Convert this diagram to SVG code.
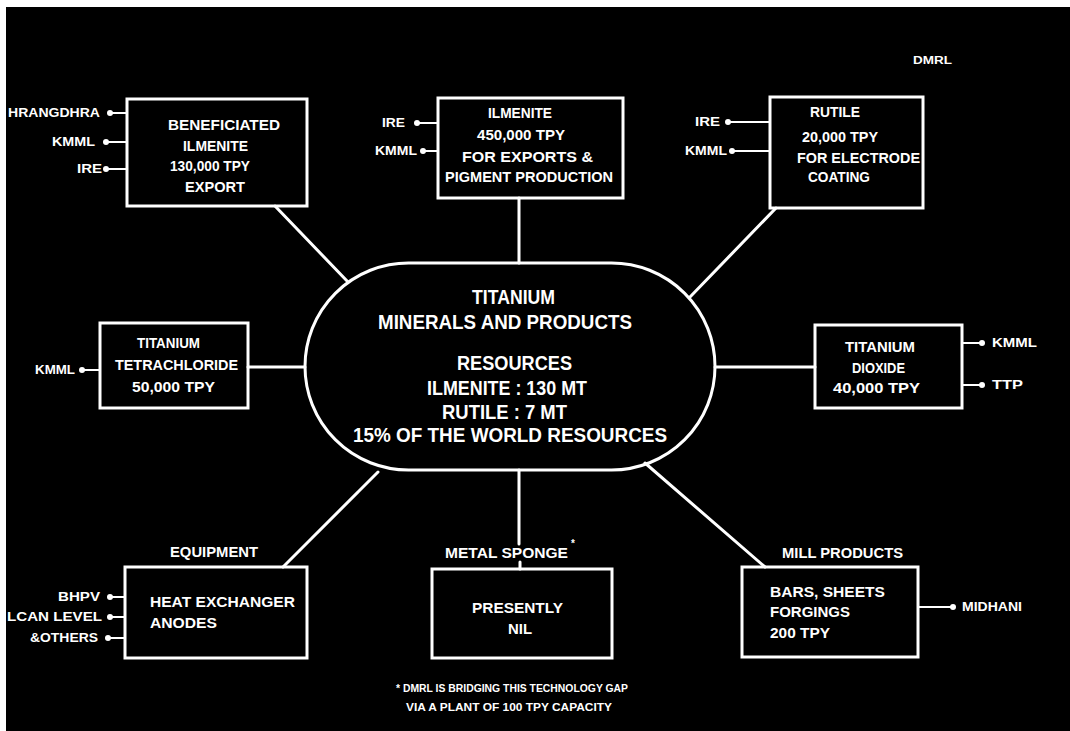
<svg xmlns="http://www.w3.org/2000/svg" width="1070" height="731" viewBox="0 0 1070 731">
<style>
.bg{fill:#000}
.box{fill:none;stroke:#fff;stroke-width:3}
.ln{fill:none;stroke:#fff;stroke-width:3;stroke-linecap:round}
.sl{fill:none;stroke:#fff;stroke-width:2}
.dot{fill:#fff}
text{fill:#fff;font-family:"Liberation Sans",Arial,sans-serif;font-weight:bold}
.t{font-size:14px}
.b{font-size:20px}
.s{font-size:12px}
.f{font-size:10px}
</style>
<rect width="1070" height="731" fill="#fff"/>
<rect class="bg" x="6" y="7" width="1064" height="724"/>

<g id="connectors">
  <line class="ln" x1="275" y1="206" x2="348" y2="282"/>
  <line class="ln" x1="519" y1="198" x2="519" y2="263"/>
  <line class="ln" x1="776" y1="208" x2="690" y2="297"/>
  <line class="ln" x1="248" y1="367" x2="305" y2="367"/>
  <line class="ln" x1="715" y1="367" x2="815" y2="367"/>
  <line class="ln" x1="283" y1="567" x2="378" y2="472"/>
  <line class="ln" x1="519" y1="470" x2="519" y2="544"/>
  <line class="ln" x1="520" y1="562" x2="520" y2="569"/>
  <line class="ln" x1="765" y1="567" x2="645" y2="463"/>
</g>

<g id="center">
  <rect class="box" x="305" y="263" width="410" height="207" rx="103.5" ry="103.5"/>
  <text class="b" x="472" y="304" textLength="83" lengthAdjust="spacingAndGlyphs">TITANIUM</text>
  <text class="b" x="378" y="329" textLength="254" lengthAdjust="spacingAndGlyphs">MINERALS AND PRODUCTS</text>
  <text class="b" x="457" y="370" textLength="115" lengthAdjust="spacingAndGlyphs">RESOURCES</text>
  <text class="b" x="427" y="395" textLength="160" lengthAdjust="spacingAndGlyphs">ILMENITE : 130 MT</text>
  <text class="b" x="442" y="419" textLength="125" lengthAdjust="spacingAndGlyphs">RUTILE : 7 MT</text>
  <text class="b" x="353" y="442" textLength="314" lengthAdjust="spacingAndGlyphs">15% OF THE WORLD RESOURCES</text>
</g>

<g id="beneficiated-ilmenite">
  <rect class="box" x="127" y="99" width="180" height="107"/>
  <text class="t" x="168" y="130" textLength="112" lengthAdjust="spacingAndGlyphs">BENEFICIATED</text>
  <text class="t" x="183" y="151" textLength="65" lengthAdjust="spacingAndGlyphs">ILMENITE</text>
  <text class="t" x="170" y="171" textLength="80" lengthAdjust="spacingAndGlyphs">130,000 TPY</text>
  <text class="t" x="185" y="192" textLength="60" lengthAdjust="spacingAndGlyphs">EXPORT</text>
  <line class="sl" x1="110" y1="113" x2="127" y2="113"/><circle class="dot" cx="110" cy="113" r="3"/>
  <line class="sl" x1="106" y1="142" x2="127" y2="142"/><circle class="dot" cx="106" cy="142" r="3"/>
  <line class="sl" x1="106" y1="169" x2="127" y2="169"/><circle class="dot" cx="106" cy="169" r="3"/>
  <text class="s" x="8" y="117" textLength="92" lengthAdjust="spacingAndGlyphs">HRANGDHRA</text>
  <text class="s" x="52" y="146" textLength="43" lengthAdjust="spacingAndGlyphs">KMML</text>
  <text class="s" x="77" y="173" textLength="25" lengthAdjust="spacingAndGlyphs">IRE</text>
</g>

<g id="ilmenite">
  <rect class="box" x="438" y="98" width="185" height="100"/>
  <text class="t" x="488" y="118" textLength="64" lengthAdjust="spacingAndGlyphs">ILMENITE</text>
  <text class="t" x="477" y="140" textLength="88" lengthAdjust="spacingAndGlyphs">450,000 TPY</text>
  <text class="t" x="462" y="162" textLength="131" lengthAdjust="spacingAndGlyphs">FOR EXPORTS &amp;</text>
  <text class="t" x="445" y="182" textLength="168" lengthAdjust="spacingAndGlyphs">PIGMENT PRODUCTION</text>
  <line class="sl" x1="417" y1="123" x2="438" y2="123"/><circle class="dot" cx="417" cy="123" r="3"/>
  <line class="sl" x1="423" y1="151" x2="438" y2="151"/><circle class="dot" cx="423" cy="151" r="3"/>
  <text class="s" x="382" y="127" textLength="23" lengthAdjust="spacingAndGlyphs">IRE</text>
  <text class="s" x="375" y="155" textLength="42" lengthAdjust="spacingAndGlyphs">KMML</text>
</g>

<g id="rutile">
  <rect class="box" x="770" y="97" width="153" height="111"/>
  <text class="t" x="810" y="117" textLength="50" lengthAdjust="spacingAndGlyphs">RUTILE</text>
  <text class="t" x="802" y="142" textLength="76" lengthAdjust="spacingAndGlyphs">20,000 TPY</text>
  <text class="t" x="797" y="163" textLength="123" lengthAdjust="spacingAndGlyphs">FOR ELECTRODE</text>
  <text class="t" x="808" y="182" textLength="62" lengthAdjust="spacingAndGlyphs">COATING</text>
  <line class="sl" x1="728" y1="122" x2="770" y2="122"/><circle class="dot" cx="728" cy="122" r="3"/>
  <line class="sl" x1="732" y1="151" x2="770" y2="151"/><circle class="dot" cx="732" cy="151" r="3"/>
  <text class="s" x="695" y="126" textLength="25" lengthAdjust="spacingAndGlyphs">IRE</text>
  <text class="s" x="685" y="155" textLength="42" lengthAdjust="spacingAndGlyphs">KMML</text>
</g>

<g id="dmrl-mark">
  <text class="f" x="913" y="64" textLength="39" lengthAdjust="spacingAndGlyphs">DMRL</text>
</g>

<g id="titanium-tetrachloride">
  <rect class="box" x="100" y="323" width="148" height="85"/>
  <text class="t" x="137" y="348" textLength="63" lengthAdjust="spacingAndGlyphs">TITANIUM</text>
  <text class="t" x="115" y="370" textLength="123" lengthAdjust="spacingAndGlyphs">TETRACHLORIDE</text>
  <text class="t" x="132" y="392" textLength="83" lengthAdjust="spacingAndGlyphs">50,000 TPY</text>
  <line class="sl" x1="82" y1="370" x2="100" y2="370"/><circle class="dot" cx="82" cy="370" r="3"/>
  <text class="s" x="35" y="374" textLength="40" lengthAdjust="spacingAndGlyphs">KMML</text>
</g>

<g id="titanium-dioxide">
  <rect class="box" x="815" y="325" width="147" height="83"/>
  <text class="t" x="845" y="352" textLength="70" lengthAdjust="spacingAndGlyphs">TITANIUM</text>
  <text class="t" x="852" y="373" textLength="53" lengthAdjust="spacingAndGlyphs">DIOXIDE</text>
  <text class="t" x="833" y="393" textLength="87" lengthAdjust="spacingAndGlyphs">40,000 TPY</text>
  <line class="sl" x1="962" y1="343" x2="982" y2="343"/><circle class="dot" cx="982" cy="343" r="3"/>
  <line class="sl" x1="962" y1="385" x2="982" y2="385"/><circle class="dot" cx="982" cy="385" r="3"/>
  <text class="s" x="992" y="347" textLength="45" lengthAdjust="spacingAndGlyphs">KMML</text>
  <text class="s" x="992" y="389" textLength="31" lengthAdjust="spacingAndGlyphs">TTP</text>
</g>

<g id="equipment">
  <text class="t" x="170" y="557" textLength="88" lengthAdjust="spacingAndGlyphs">EQUIPMENT</text>
  <rect class="box" x="125" y="567" width="182" height="91"/>
  <text class="t" x="150" y="607" textLength="145" lengthAdjust="spacingAndGlyphs">HEAT EXCHANGER</text>
  <text class="t" x="150" y="628" textLength="67" lengthAdjust="spacingAndGlyphs">ANODES</text>
  <line class="sl" x1="110" y1="597" x2="125" y2="597"/><circle class="dot" cx="110" cy="597" r="3"/>
  <line class="sl" x1="110" y1="617" x2="125" y2="617"/><circle class="dot" cx="110" cy="617" r="3"/>
  <line class="sl" x1="108" y1="638" x2="125" y2="638"/><circle class="dot" cx="108" cy="638" r="3"/>
  <text class="s" x="58" y="601" textLength="42" lengthAdjust="spacingAndGlyphs">BHPV</text>
  <text class="s" x="7" y="621" textLength="95" lengthAdjust="spacingAndGlyphs">LCAN LEVEL</text>
  <text class="s" x="30" y="642" textLength="68" lengthAdjust="spacingAndGlyphs">&amp;OTHERS</text>
</g>

<g id="metal-sponge">
  <text class="t" x="445" y="558" textLength="123" lengthAdjust="spacingAndGlyphs">METAL SPONGE</text>
  <text class="f" x="571" y="547">*</text>
  <rect class="box" x="432" y="569" width="180" height="89"/>
  <text class="t" x="472" y="613" textLength="91" lengthAdjust="spacingAndGlyphs">PRESENTLY</text>
  <text class="t" x="508" y="634" textLength="24" lengthAdjust="spacingAndGlyphs">NIL</text>
</g>

<g id="mill-products">
  <text class="t" x="782" y="558" textLength="121" lengthAdjust="spacingAndGlyphs">MILL PRODUCTS</text>
  <rect class="box" x="742" y="567" width="176" height="90"/>
  <text class="t" x="770" y="597" textLength="115" lengthAdjust="spacingAndGlyphs">BARS, SHEETS</text>
  <text class="t" x="770" y="617" textLength="80" lengthAdjust="spacingAndGlyphs">FORGINGS</text>
  <text class="t" x="770" y="638" textLength="60" lengthAdjust="spacingAndGlyphs">200 TPY</text>
  <line class="sl" x1="918" y1="607" x2="953" y2="607"/><circle class="dot" cx="953" cy="607" r="3"/>
  <text class="s" x="962" y="611" textLength="60" lengthAdjust="spacingAndGlyphs">MIDHANI</text>
</g>

<g id="footnote">
  <text class="f" x="396" y="692" textLength="232" lengthAdjust="spacingAndGlyphs">* DMRL IS BRIDGING THIS TECHNOLOGY GAP</text>
  <text class="f" x="406" y="711" textLength="206" lengthAdjust="spacingAndGlyphs">VIA A PLANT OF 100 TPY CAPACITY</text>
</g>
</svg>
